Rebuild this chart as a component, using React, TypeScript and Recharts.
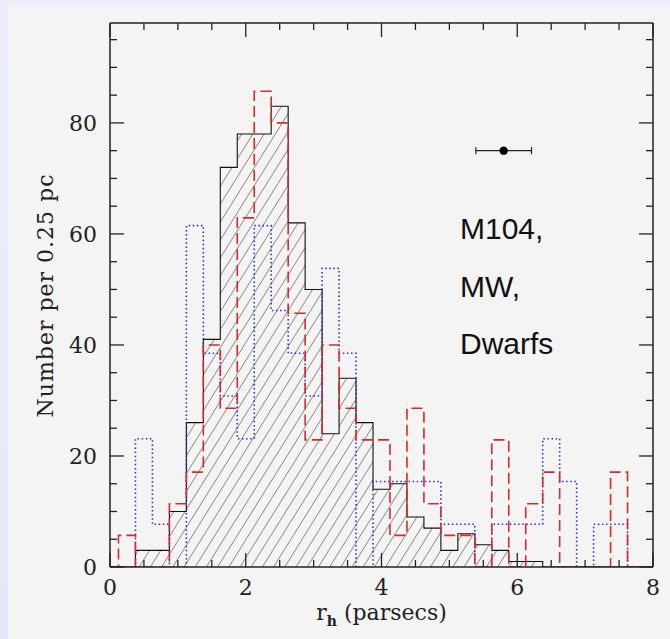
import React from 'react';
import { ComposedChart, Area, Line, Scatter, ErrorBar, XAxis, YAxis, Customized } from 'recharts';

// Bin centres (pc), bin width 0.25 pc
const binCenters = [0, 0.25, 0.5, 0.75, 1, 1.25, 1.5, 1.75, 2, 2.25, 2.5, 2.75, 3, 3.25, 3.5, 3.75, 4, 4.25, 4.5, 4.75, 5, 5.25, 5.5, 5.75, 6, 6.25, 6.5, 6.75, 7, 7.25, 7.5, 7.75, 8];
// M104 (solid, hatched)
const m104Counts = [0, 0, 3, 3, 10, 26, 41, 72, 78, 78, 83, 62, 50, 24, 34, 26, 14, 15, 9, 7, 3, 6, 4, 3, 1, 1, 0, 0, 0, 0, 0, 0, 0];
// Milky Way (red dashed)
const mwCounts = [0, 5.7, 0, 0, 11.4, 17.1, 40, 28.6, 62.9, 85.7, 80, 45.7, 22.9, 40, 28.6, 22.9, 22.9, 5.7, 28.6, 11.4, 5.7, 5.7, 0, 22.9, 0, 11.4, 17.1, 0, 0, 0, 17.1, 0, 0];
// Dwarfs (blue dotted)
const dwarfCounts = [0, 0, 23.1, 7.7, 0, 61.5, 38.5, 30.8, 23.1, 61.5, 46.2, 38.5, 30.8, 53.8, 38.5, 0, 15.4, 15.4, 15.4, 15.4, 7.7, 7.7, 0, 7.7, 7.7, 7.7, 23.1, 15.4, 0, 7.7, 7.7, 0, 0];

const xTicks = [0, 0.5, 1, 1.5, 2, 2.5, 3, 3.5, 4, 4.5, 5, 5.5, 6, 6.5, 7, 7.5, 8];
const xMajorTicks = [0, 2, 4, 6, 8];
const yTicks = [0, 5, 10, 15, 20, 25, 30, 35, 40, 45, 50, 55, 60, 65, 70, 75, 80, 85, 90, 95];
const yMajorTicks = [0, 20, 40, 60, 80];
const xDomain = [0, 8];
const yDomain = [0, 98];

const errPoint = [{ x: 5.8, y: 75, err: 0.41 }];
const annotationLines = ['M104,', 'MW,', 'Dwarfs'];

const binHalf = 0.125;
const rows = binCenters.map((c, i) => ({
  x: i === 0 ? c : c - binHalf,
  m104: m104Counts[i],
  mw: mwCounts[i],
  dw: dwarfCounts[i],
}));
rows.push({
  x: xDomain[1],
  m104: m104Counts[m104Counts.length - 1],
  mw: mwCounts[mwCounts.length - 1],
  dw: dwarfCounts[dwarfCounts.length - 1],
});

const FRAME = '#222';
const SERIF = '"DejaVu Serif", serif';
const MINOR = 7;
const MAJOR = 14;

const XBottomTick = (props: any) => {
  const { x, y, payload } = props;
  const major = xMajorTicks.includes(payload.value);
  return (
    <g>
      <line x1={x} x2={x} y1={y} y2={y - (major ? MAJOR : MINOR)} stroke={FRAME} strokeWidth={1.3} />
      {major && (
        <text x={x} y={y + 28} textAnchor="middle" fontFamily={SERIF} fontSize={22} fill="#222">
          {payload.value}
        </text>
      )}
    </g>
  );
};

const XTopTick = (props: any) => {
  const { x, y, payload } = props;
  const major = xMajorTicks.includes(payload.value);
  return <line x1={x} x2={x} y1={y} y2={y + (major ? MAJOR : MINOR)} stroke={FRAME} strokeWidth={1.3} />;
};

const YLeftTick = (props: any) => {
  const { x, y, payload } = props;
  const major = yMajorTicks.includes(payload.value);
  return (
    <g>
      <line x1={x} x2={x + (major ? MAJOR : MINOR)} y1={y} y2={y} stroke={FRAME} strokeWidth={1.3} />
      {major && (
        <text x={x - 13} y={y + 8} textAnchor="end" fontFamily={SERIF} fontSize={22} fill="#222">
          {payload.value}
        </text>
      )}
    </g>
  );
};

const YRightTick = (props: any) => {
  const { x, y, payload } = props;
  const major = yMajorTicks.includes(payload.value);
  return <line x1={x} x2={x - (major ? MAJOR : MINOR)} y1={y} y2={y} stroke={FRAME} strokeWidth={1.3} />;
};

const Dot = (props: any) => <circle cx={props.cx} cy={props.cy} r={4.2} fill="#000" />;

const Texts = () => (
  <g>
    {annotationLines.map((t, i) => (
      <text key={t} x={460} y={239 + i * 57.5} fontFamily='"Liberation Sans", Arial, sans-serif' fontSize={30} fill="#111">
        {t}
      </text>
    ))}
    <text
      transform="translate(53,295.5) rotate(-90)"
      textAnchor="middle"
      fontFamily={SERIF}
      fontSize={22}
      letterSpacing={1}
      fill="#222"
    >
      Number per 0.25 pc
    </text>
    <text x={381.5} y={620} textAnchor="middle" fontFamily={SERIF} fontSize={22} fill="#222">
      r
      <tspan fontSize={14} fontWeight="bold" dy={6}>h</tspan>
      <tspan dy={-6}> (parsecs)</tspan>
    </text>
  </g>
);

export default function App() {
  return (
    <div
      style={{
        position: 'fixed',
        left: 0,
        top: 0,
        width: 670,
        height: 639,
        background: 'linear-gradient(180deg, #eceefc 0%, #e3e7fa 100%)',
      }}
    >
      <div style={{ position: 'absolute', left: 8, top: 6, width: 662, height: 633, background: '#f4f4f4' }} />
      <div style={{ position: 'absolute', left: 0, top: 0 }}>
        <ComposedChart width={670} height={639} data={rows} margin={{ top: 0, right: 0, bottom: 0, left: 0 }}>
          <defs>
            <pattern id="hatch" width="9.5" height="9.5" patternUnits="userSpaceOnUse" patternTransform="rotate(32)">
              <line x1="0" y1="0" x2="0" y2="9.5" stroke="#333" strokeWidth="1" />
            </pattern>
          </defs>
          <XAxis
            dataKey="x"
            type="number"
            domain={xDomain}
            ticks={xTicks}
            interval={0}
            height={72}
            tickSize={0}
            tickMargin={0}
            tickLine={false}
            tick={<XBottomTick />}
            axisLine={{ stroke: FRAME, strokeWidth: 1.5 }}
            allowDataOverflow
          />
          <XAxis
            xAxisId="top"
            orientation="top"
            dataKey="x"
            type="number"
            domain={xDomain}
            ticks={xTicks}
            interval={0}
            height={23}
            tickSize={0}
            tickMargin={0}
            tickLine={false}
            tick={<XTopTick />}
            axisLine={{ stroke: FRAME, strokeWidth: 1.5 }}
            allowDataOverflow
          />
          <YAxis
            type="number"
            domain={yDomain}
            ticks={yTicks}
            interval={0}
            width={110}
            tickSize={0}
            tickMargin={0}
            tickLine={false}
            tick={<YLeftTick />}
            axisLine={{ stroke: FRAME, strokeWidth: 1.5 }}
            allowDataOverflow
          />
          <YAxis
            yAxisId="right"
            orientation="right"
            type="number"
            domain={yDomain}
            ticks={yTicks}
            interval={0}
            width={17}
            tickSize={0}
            tickMargin={0}
            tickLine={false}
            tick={<YRightTick />}
            axisLine={{ stroke: FRAME, strokeWidth: 1.5 }}
            allowDataOverflow
          />
          <Area
            type="stepAfter"
            dataKey="m104"
            stroke="#111"
            strokeWidth={1.1}
            fill="url(#hatch)"
            fillOpacity={1}
            isAnimationActive={false}
            dot={false}
            activeDot={false}
          />
          <Line
            type="stepAfter"
            dataKey="dw"
            stroke="#3030c8"
            strokeWidth={1.6}
            strokeDasharray="1.5 2.6"
            dot={false}
            activeDot={false}
            isAnimationActive={false}
          />
          <Line
            type="stepAfter"
            dataKey="mw"
            stroke="#d62a2a"
            strokeWidth={1.6}
            strokeDasharray="11 5"
            dot={false}
            activeDot={false}
            isAnimationActive={false}
          />
          <Scatter data={errPoint} dataKey="y" shape={<Dot />} isAnimationActive={false}>
            <ErrorBar dataKey="err" direction="x" width={3.5} stroke="#222" strokeWidth={1.2} />
          </Scatter>
          <Customized component={Texts} />
        </ComposedChart>
      </div>
    </div>
  );
}
